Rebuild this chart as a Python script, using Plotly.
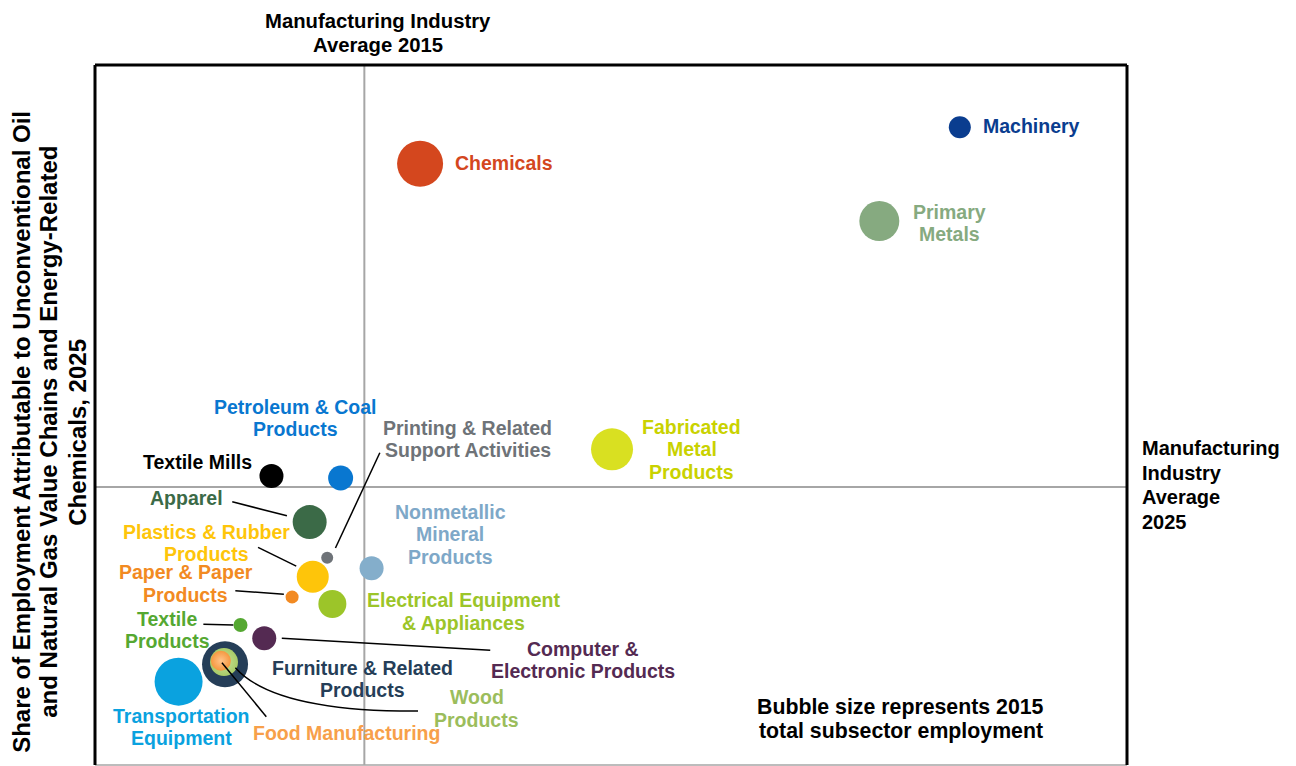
import plotly.graph_objects as go

# ---------------- data ----------------
subsectors = ["Machinery", "Chemicals", "Primary Metals", "Fabricated Metal Products",
              "Textile Mills", "Petroleum & Coal Products", "Apparel",
              "Printing & Related Support Activities", "Plastics & Rubber Products",
              "Nonmetallic Mineral Products", "Paper & Paper Products",
              "Electrical Equipment & Appliances", "Textile Products",
              "Computer & Electronic Products", "Furniture & Related Products",
              "Wood Products", "Food Manufacturing", "Transportation Equipment"]
# x: 2015 share index, y: 2025 share index (arbitrary units 0-100)
x_2015 = [83.8, 31.5, 76.0, 50.1, 17.1, 23.8, 20.8, 22.5, 21.1, 26.8, 19.1, 23.0, 14.1, 16.4, 12.6, 12.5, 12.2, 8.1]
y_2025 = [91.1, 85.9, 77.7, 45.1, 41.3, 41.0, 34.7, 29.6, 26.9, 28.1, 24.0, 23.0, 20.0, 18.1, 14.4, 14.7, 14.9, 11.9]
employment_2015 = [242, 1058, 800, 882, 288, 312, 578, 72, 512, 288, 85, 392, 98, 288, 1058, 392, 200, 1152]
avg_2015 = 26.1
avg_2025 = 39.7

bubble_colors = ["#0a3d8f", "#d4471e", "#86aa80", "#d9e021", "#000000", "#0977d0", "#3b6a47",
                 "#6e7378", "#fec50a", "#84aecb", "#f28a22", "#9cc529", "#55a832", "#542a52",
                 "#253e58", "#a8cb67", "#f5983f", "#0aa2df"]
gradient_centers = [None] * 15 + ["#c9e29a", "#ffc48a", None]
label_colors = ["#0a3d8f", "#d4471e", "#86aa80", "#c9d200", "#000000", "#0977d0", "#3b6a47",
                "#6e7378", "#fec50a", "#7ea8c8", "#f28a22", "#9cc529", "#55a832", "#542a52",
                "#253e58", "#9bbd5c", "#f7a04a", "#0aa2df"]
label_text = ["Machinery", "Chemicals", "Primary<br>Metals", "Fabricated<br>Metal<br>Products",
              "Textile Mills", "Petroleum & Coal<br>Products", "Apparel",
              "Printing & Related<br>Support Activities", "Plastics & Rubber<br>Products",
              "Nonmetallic<br>Mineral<br>Products", "Paper & Paper<br>Products",
              "Electrical Equipment<br>& Appliances", "Textile<br>Products",
              "Computer &<br>Electronic Products", "Furniture & Related<br>Products",
              "Wood<br>Products", "Food Manufacturing", "Transportation<br>Equipment"]
label_x = [85.9, 34.7, 82.8, 57.8, 9.9, 19.4, 8.9, 36.1, 10.8, 34.4, 8.8, 35.7, 7.0, 47.3, 25.9, 37.0, 24.4, 8.4]
label_y = [91.3, 86.0, 77.4, 45.1, 43.3, 49.6, 38.1, 46.6, 31.7, 33.0, 25.9, 21.9, 19.3, 15.0, 12.3, 8.1, 4.6, 5.4]
label_anchor = ["left", "left"] + ["center"] * 16

# straight leader lines: (x0, y0, x1, y1)
leaders = [(13.3, 37.6, 18.6, 35.6),   # Apparel
           (15.8, 31.1, 19.5, 28.4),   # Plastics
           (13.6, 24.9, 18.3, 24.4),   # Paper
           (10.5, 20.1, 13.4, 20.0),   # Textile Products
           (18.1, 18.1, 38.3, 16.4),   # Computer
           (27.6, 44.6, 23.3, 31.0),   # Printing
           (16.6, 6.9, 12.3, 14.6)]    # Food
# curved leader (Wood): start, control, end
wood_curve = [(13.6, 13.9), (17.4, 7.6), (31.3, 7.7)]

fig = go.Figure()

fig.add_trace(go.Scatter(
    x=x_2015, y=y_2025, mode="markers",
    marker=dict(size=employment_2015, sizemode="area", sizeref=1.0,
                color=bubble_colors, line=dict(width=0), opacity=1,
                gradient=dict(type=["radial" if g else "none" for g in gradient_centers],
                              color=[g if g else c for g, c in zip(gradient_centers, bubble_colors)])),
    text=subsectors, hoverinfo="text", showlegend=False, cliponaxis=False))

FONT = "Liberation Sans, Arial, sans-serif"
anns = []

def add_lines(x, y, text, color, size, spacing, xanchor="center", xref="x", yref="y"):
    lines = text.split("<br>")
    n = len(lines)
    for i, ln in enumerate(lines):
        anns.append(dict(x=x, y=y, xref=xref, yref=yref, text="<b>" + ln + "</b>",
                         showarrow=False, xanchor=xanchor, yanchor="middle",
                         yshift=((n - 1) / 2 - i) * spacing,
                         font=dict(family=FONT, size=size, color=color)))

for t, lx, ly, c, a in zip(label_text, label_x, label_y, label_colors, label_anchor):
    add_lines(lx, ly, t, c, 19.5, 22.5, xanchor=a)

# reference titles
add_lines(0.274, 1.046, "Manufacturing Industry<br>Average 2015", "#000000", 20.3, 24, xref="paper", yref="paper")
add_lines(1.0126, 0.40, "Manufacturing<br>Industry<br>Average<br>2025", "#000000", 20, 24.7,
          xanchor="left", xref="paper", yref="paper")
add_lines(78.1, 6.57, "Bubble size represents 2015<br>total subsector employment", "#000000", 21.3, 24)

# y-axis title (rotated, three lines)
ytitle = ["Share of Employment Attributable to Unconventional Oil",
          "and Natural Gas Value Chains and Energy-Related",
          "Chemicals, 2025"]
for ln, px in zip(ytitle, [-0.0707, -0.0446, -0.0165]):
    anns.append(dict(x=px, y=0.476, xref="paper", yref="paper", text="<b>" + ln + "</b>",
                     showarrow=False, textangle=-90, xanchor="center", yanchor="middle",
                     font=dict(family=FONT, size=24, color="#000000")))

shapes = []
# average lines
shapes.append(dict(type="line", xref="x", yref="paper", x0=avg_2015, x1=avg_2015, y0=0, y1=1,
                   line=dict(color="#a6a6a6", width=2), layer="below"))
shapes.append(dict(type="line", xref="paper", yref="y", x0=0, x1=1, y0=avg_2025, y1=avg_2025,
                   line=dict(color="#a6a6a6", width=2), layer="below"))
# leader lines
for x0, y0, x1, y1 in leaders:
    shapes.append(dict(type="line", xref="x", yref="y", x0=x0, y0=y0, x1=x1, y1=y1,
                       line=dict(color="#000000", width=1.5)))
(p0, pc, p2) = wood_curve
shapes.append(dict(type="path", xref="x", yref="y",
                   path=f"M {p0[0]},{p0[1]} Q {pc[0]},{pc[1]} {p2[0]},{p2[1]}",
                   line=dict(color="#000000", width=1.5)))
# frame
shapes.append(dict(type="line", xref="paper", yref="paper", x0=0, x1=1, y0=0, y1=0,
                   line=dict(color="#a6a6a6", width=1.5)))
for x0, y0, x1, y1 in [(0, 0, 0, 1), (0, 1, 1, 1), (1, 1, 1, 0)]:
    shapes.append(dict(type="line", xref="paper", yref="paper", x0=x0, y0=y0, x1=x1, y1=y1,
                       line=dict(color="#000000", width=3)))

# page body has an 8px margin, so the figure is 8px smaller and offset
fig.update_layout(
    width=1288, height=758,
    margin=dict(l=87, r=169, t=57, b=1),
    paper_bgcolor="white", plot_bgcolor="white",
    xaxis=dict(range=[0, 100], showgrid=False, zeroline=False, showticklabels=False,
               showline=False, ticks=""),
    yaxis=dict(range=[0, 100], showgrid=False, zeroline=False, showticklabels=False,
               showline=False, ticks=""),
    annotations=anns, shapes=shapes, showlegend=False)

fig.write_html("out.html")
